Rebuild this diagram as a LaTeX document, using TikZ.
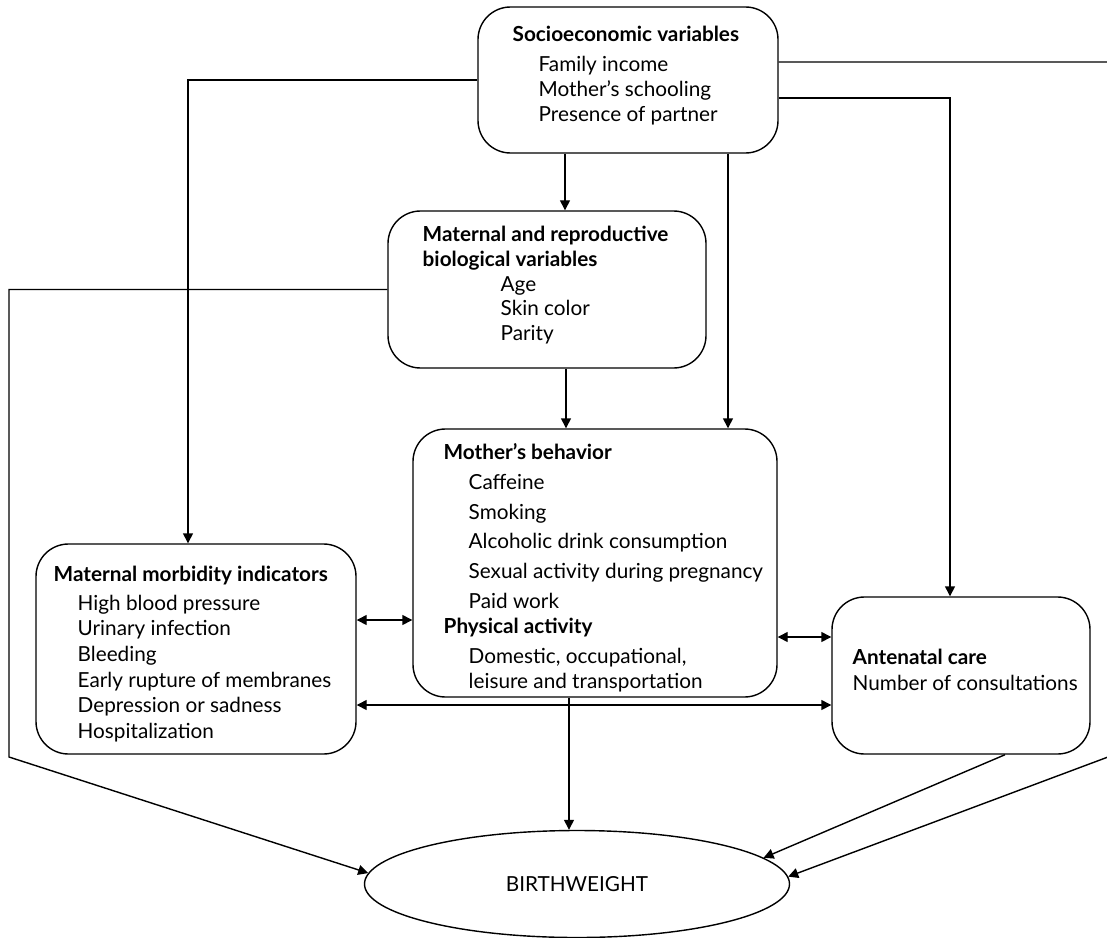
\documentclass[tikz,border=0pt]{standalone}
\usepackage{fontspec}
\setmainfont{Lato}
\usetikzlibrary{arrows.meta,calc,shapes.geometric}

\begin{document}
\begin{tikzpicture}[x=0.2mm, y=-0.2mm, line width=0.8pt,
    box/.style={draw, rounded corners=6.5mm, inner sep=0pt},
    txt/.style={align=left, anchor=north west, inner sep=0pt, font=\fontsize{11.8}{14.2}\selectfont},
    pfeil/.style={-{Triangle[length=2mm,width=2mm]}},
    doppel/.style={{Triangle[length=2mm,width=2mm]}-{Triangle[length=2mm,width=2mm]}}]

    \useasboundingbox (0,0) rectangle (1107,938);

    % boxes
    \node[box, minimum width=60mm, minimum height=29.2mm] (socio) at (628,80) {};
    \node[box, minimum width=63.6mm, minimum height=31.4mm] (bio) at (547,289.5) {};
    \node[box, minimum width=72.8mm, minimum height=53.6mm] (behav) at (595,563) {};
    \node[box, minimum width=64mm, minimum height=42mm] (morb) at (196,649) {};
    \node[box, minimum width=51.6mm, minimum height=31.4mm] (ante) at (961,675.5) {};
    \node[draw, ellipse, minimum width=85mm, minimum height=21.4mm, inner sep=0pt,
        font=\fontsize{11.8}{14.2}\selectfont] (bw) at (577,884) {BIRTHWEIGHT};

    % texts
    \node[txt] (socio-t) at (512,25) {\textbf{Socioeconomic variables}\\[3pt]
        \hspace*{5.2mm}Family income\\
        \hspace*{5.2mm}Mother’s schooling\\
        \hspace*{5.2mm}Presence of partner};
    \node[txt] (bio-t) at (422,225) {\textbf{Maternal and reproductive}\\
        \textbf{biological variables}\\
        \hspace*{15.6mm}Age\\
        \hspace*{15.6mm}Skin color\\
        \hspace*{15.6mm}Parity};
    \node[txt, font=\fontsize{11.8}{16.9}\selectfont] (behav-t) at (443,443) {\textbf{Mother’s behavior}\\
        \hspace*{5mm}Caffeine\\
        \hspace*{5mm}Smoking\\
        \hspace*{5mm}Alcoholic drink consumption\\
        \hspace*{5mm}Sexual activity during pregnancy\\
        \hspace*{5mm}Paid work\\[-2.3pt]
        \textbf{Physical activity}\\
        \hspace*{5mm}Domestic, occupational,\\[-2.6pt]
        \hspace*{5mm}leisure and transportation};
    \node[txt, font=\fontsize{11.8}{14.6}\selectfont] (morb-t) at (53,565) {\textbf{Maternal morbidity indicators}\\[2pt]
        \hspace*{4.8mm}High blood pressure\\
        \hspace*{4.8mm}Urinary infection\\
        \hspace*{4.8mm}Bleeding\\
        \hspace*{4.8mm}Early rupture of membranes\\
        \hspace*{4.8mm}Depression or sadness\\
        \hspace*{4.8mm}Hospitalization};
    \node[txt, font=\fontsize{11.8}{14.8}\selectfont] (ante-t) at (852,648) {\textbf{Antenatal care}\\
        Number of consultations};

    % connectors
    \coordinate (re) at (1108,757);
    \coordinate (le) at (9,757);
    \coordinate (s1) at ($(socio.south)+(-63,0)$);
    \coordinate (s2) at ($(socio.south)+(100,0)$);
    \coordinate (b1) at ($(bio.south)+(19,0)$);
    \coordinate (h1) at ($(behav.south)+(-26,0)$);
    \coordinate (m1) at ($(morb.east)+(0,-29)$);
    \coordinate (m2) at ($(morb.east)+(0,56)$);
    \coordinate (h2) at ($(behav.east)+(0,74)$);

    \draw[pfeil] (socio.west) -| ($(morb.north)+(-8,0)$);
    \draw[pfeil] ($(socio.east)+(0,18)$) -| ($(ante.north)+(-11,0)$);
    \draw[pfeil] ($(socio.east)+(0,-18)$) -| (re) -- (bw.2.5);
    \draw[pfeil] (s1) -- (s1 |- bio.north);
    \draw[pfeil] (s2) -- (s2 |- behav.north);
    \draw[pfeil] (b1) -- (b1 |- behav.north);
    \draw[pfeil] (bio.west) -| (le) -- (bw.177);
    \draw[doppel] (m1) -- (m1 -| behav.west);
    \draw[doppel] (h2) -- (h2 -| ante.west);
    \draw[doppel] (m2) -- (m2 -| ante.west);
    \draw[pfeil] (h1) -- (h1 |- bw.north);
    \draw[pfeil] ($(ante.south)+(44,0)$) -- (bw.8);

\end{tikzpicture}
\end{document}
